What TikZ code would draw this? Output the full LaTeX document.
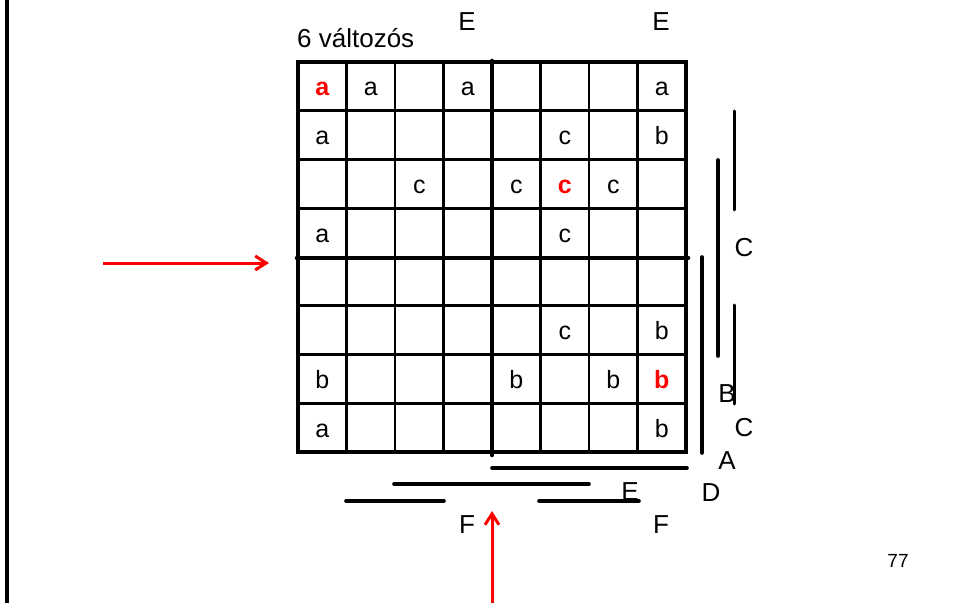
\documentclass[tikz,border=0pt]{standalone}
\usepackage{fontspec}
\setmainfont{Liberation Sans}
\usetikzlibrary{arrows.meta}
\definecolor{kred}{RGB}{255,0,0}
\begin{document}
\begin{tikzpicture}[x=1bp,y=-1bp,
  lbl/.style={font=\fontsize{26bp}{30bp}\selectfont, inner sep=0pt, anchor=base},
  cell/.style={font=\fontsize{25bp}{28bp}\selectfont, inner sep=0pt, anchor=base},
  hot/.style={cell, text=kred, font=\fontsize{25bp}{28bp}\selectfont\bfseries},
  thin/.style={line width=2.8bp},
  outer/.style={line width=3.4bp},
  center/.style={line width=4.6bp},
  bar/.style={line width=3.6bp, line cap=round},
  bari/.style={line width=3bp, line cap=round},
  redarrow/.style={draw=kred, line width=3bp, -{Straight Barb[length=11bp,width=14bp,line width=3bp]}}
]
\useasboundingbox (0,0) rectangle (957,603);
% left border
\draw[line width=3.2bp] (7,0) -- (7,603);
% grid
\foreach \i in {1,2,3,5,6,7} {
  \draw[thin] ({298+48.5*\i},62) -- ({298+48.5*\i},452);
}
\foreach \j in {1,2,3,5,6,7} {
  \draw[thin] (298,{62+48.75*\j}) -- (686,{62+48.75*\j});
}
\draw[outer] (298,62) rectangle (686,452);
\draw[center, line cap=round] (492,61) -- (492,455);
\draw[center, line cap=round] (297,258) -- (688,258);
% cells
\def\cx#1{298+48.5*#1-24.25}
\def\cy#1{62+48.75*#1-24.375+9.5}
\node[hot]  (c11) at ({\cx1},{\cy1}) {a};
\node[cell] (c12) at ({\cx2},{\cy1}) {a};
\node[cell] (c14) at ({\cx4},{\cy1}) {a};
\node[cell] (c18) at ({\cx8},{\cy1}) {a};
\node[cell] (c21) at ({\cx1},{\cy2}) {a};
\node[cell] (c26) at ({\cx6},{\cy2}) {c};
\node[cell] (c28) at ({\cx8},{\cy2}) {b};
\node[cell] (c33) at ({\cx3},{\cy3}) {c};
\node[cell] (c35) at ({\cx5},{\cy3}) {c};
\node[hot]  (c36) at ({\cx6},{\cy3}) {c};
\node[cell] (c37) at ({\cx7},{\cy3}) {c};
\node[cell] (c41) at ({\cx1},{\cy4}) {a};
\node[cell] (c46) at ({\cx6},{\cy4}) {c};
\node[cell] (c66) at ({\cx6},{\cy6}) {c};
\node[cell] (c68) at ({\cx8},{\cy6}) {b};
\node[cell] (c71) at ({\cx1},{\cy7}) {b};
\node[cell] (c75) at ({\cx5},{\cy7}) {b};
\node[cell] (c77) at ({\cx7},{\cy7}) {b};
\node[hot]  (c78) at ({\cx8},{\cy7}) {b};
\node[cell] (c81) at ({\cx1},{\cy8}) {a};
\node[cell] (c88) at ({\cx8},{\cy8}) {b};
% title and labels
\node[lbl, anchor=base west] (title) at (297,47.5) {6 változós};
\node[lbl] (e1) at (467,31) {E};
\node[lbl] (e2) at (661,31) {E};
\node[lbl] (lC1) at (744,257) {C};
\node[lbl] (lB) at (727,402) {B};
\node[lbl] (lC2) at (744,436) {C};
\node[lbl] (lA) at (727,469) {A};
\node[lbl] (lD) at (711,501) {D};
\node[lbl] (lE) at (630,500) {E};
\node[lbl] (f1) at (467,533) {F};
\node[lbl] (f2) at (661,533) {F};
\node[font=\fontsize{19bp}{22bp}\selectfont, inner sep=0pt, anchor=base] (pg) at (898,567) {77};
% right bars
\draw[bar] (702,257) -- (702,453);
\draw[bar] (718,160) -- (718,356);
\draw[bari] (734,111) -- (734,210);
\draw[bari] (734,305) -- (734,404);
% bottom bars
\draw[bar] (492,468) -- (687,468);
\draw[bar] (394,484) -- (589,484);
\draw[bar] (346,501) -- (444,501);
\draw[bar] (539,501) -- (639,501);
% red arrows
\coordinate (h0) at (103,263);
\coordinate (h1) at (269,263);
\coordinate (v0) at (492,603);
\coordinate (v1) at (492,511);
\draw[redarrow] (h0) -- (h1);
\draw[redarrow] (v0) -- (v1);
\end{tikzpicture}
\end{document}
